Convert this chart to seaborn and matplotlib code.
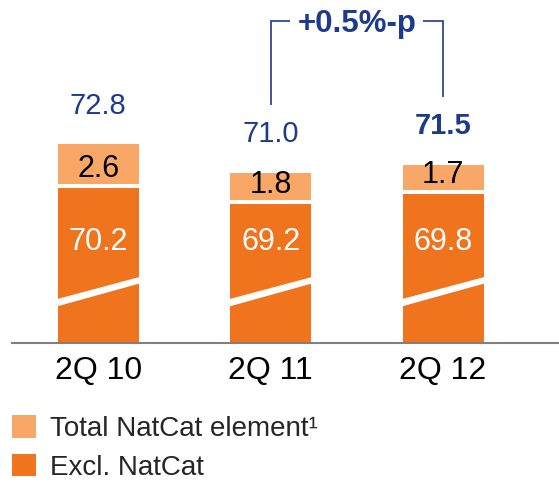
import matplotlib
matplotlib.use("Agg")
import matplotlib.pyplot as plt
import matplotlib.transforms as mtransforms
from matplotlib.patches import Patch
import seaborn as sns
import numpy as np

# Combined ratio components (%)
quarters = ["2Q 10", "2Q 11", "2Q 12"]
excl_natcat = [70.2, 69.2, 69.8]
natcat = [2.6, 1.8, 1.7]
totals = [72.8, 71.0, 71.5]
change_label = "+0.5%-p"
legend_labels = ["Total NatCat element\u00b9", "Excl. NatCat"]

DARK = "#F0731E"
LIGHT = "#F9A766"
BLUE = "#1D3A8C"

sns.set_theme(style="white")
plt.rcParams["font.family"] = ["Liberation Sans", "DejaVu Sans"]

fig = plt.figure(figsize=(5.59, 4.82), dpi=100)
ax = fig.add_axes([12 / 559, (482 - 342.5) / 482, 1 - 12 / 559, 342.5 / 482])

bar_w = 0.47
sns.barplot(x=quarters, y=totals, color=LIGHT, saturation=1, width=bar_w,
            ax=ax, linewidth=0)
sns.barplot(x=quarters, y=excl_natcat, color=DARK, saturation=1, width=bar_w,
            ax=ax, linewidth=0)

# broken value axis: the bars start well above zero
y0 = 60.4
ax.set_ylim(y0, y0 + 342.5 / 16)
ax.set_xlim(-0.5, 2.672)

xs = np.arange(len(quarters))

# white separator between the two stacked segments
ax.hlines(excl_natcat, xs - bar_w / 2, xs + bar_w / 2, color="white", lw=2.9, zorder=3)

# diagonal break mark across each bar
blend = mtransforms.blended_transform_factory(ax.transData, ax.transAxes)
for x in xs:
    l, r = x - bar_w / 2 - 0.01, x + bar_w / 2 + 0.01
    ax.fill([l, r, r, l], [0.1045, 0.173, 0.192, 0.126], color="white",
            transform=blend, zorder=4, lw=0)

# value labels
for x, d, n, t in zip(xs, excl_natcat, natcat, totals):
    ax.text(x, 0.270, f"{d:.1f}", transform=blend, ha="center", va="baseline",
            color="white", fontsize=22, zorder=5)
    ax.annotate(f"{n:.1f}", (x, d), xytext=(0, 6.5), textcoords="offset points",
                ha="center", va="baseline", color="black", fontsize=22, zorder=5)
    ax.annotate(f"{t:.1f}", (x, t), xytext=(0, 22), textcoords="offset points",
                ha="center", va="baseline", color=BLUE, fontsize=21,
                fontweight="bold" if x == xs[-1] else "normal", zorder=5)

# change bracket between the last two quarters
top = 80.5
ax.plot([xs[1], xs[1], 1.113], [totals[1] + 4.25, top, top], color=BLUE, lw=1.2,
        solid_capstyle="butt", solid_joinstyle="miter", clip_on=False)
ax.plot([1.884, xs[2], xs[2]], [top, top, totals[2] + 4.25], color=BLUE, lw=1.2,
        solid_capstyle="butt", solid_joinstyle="miter", clip_on=False)
ax.text((xs[1] + xs[2]) / 2, 79.8, change_label, ha="center", va="baseline",
        color=BLUE, fontsize=22.5, fontweight="bold")

# axes styling
for s in ["left", "top", "right"]:
    ax.spines[s].set_visible(False)
ax.spines["bottom"].set_color("#808080")
ax.spines["bottom"].set_linewidth(1.5)
ax.set_yticks([])
ax.set_xlabel("")
ax.set_ylabel("")
ax.tick_params(axis="x", length=0, pad=10, labelsize=23, labelcolor="black")

handles = [Patch(facecolor=LIGHT, edgecolor="none"), Patch(facecolor=DARK, edgecolor="none")]
fig.legend(handles, legend_labels, loc="lower left", bbox_to_anchor=(12 / 559, 0.003),
           frameon=False, fontsize=20, borderpad=0, borderaxespad=0,
           handlelength=0.86, handleheight=0.88, handletextpad=0.5,
           labelspacing=0.42)

fig.savefig("out.png", dpi=100)
